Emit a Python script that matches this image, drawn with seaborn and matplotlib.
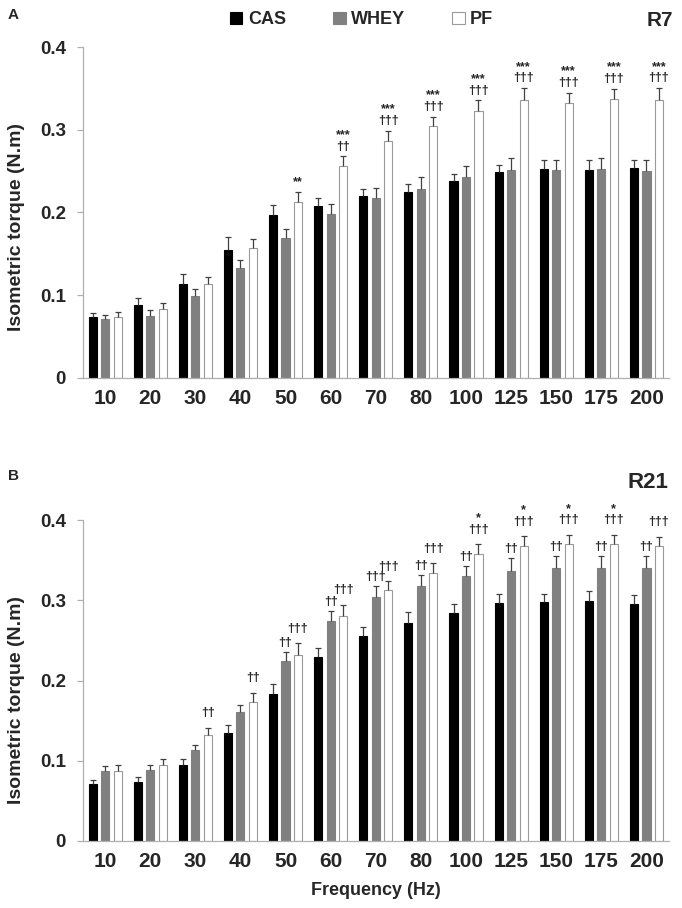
import matplotlib
matplotlib.use("Agg")
import matplotlib.pyplot as plt
import numpy as np
import pandas as pd
import seaborn as sns

freqs = ["10", "20", "30", "40", "50", "60", "70", "80", "100", "125", "150", "175", "200"]
diets = ["CAS", "WHEY", "PF"]

# R7
cas_r7 = [0.073, 0.088, 0.113, 0.154, 0.197, 0.208, 0.220, 0.225, 0.238, 0.249, 0.253, 0.252, 0.254]
cas_r7_sem = [0.005, 0.009, 0.012, 0.016, 0.012, 0.010, 0.008, 0.010, 0.009, 0.009, 0.011, 0.011, 0.010]
whey_r7 = [0.071, 0.075, 0.099, 0.133, 0.169, 0.198, 0.218, 0.229, 0.243, 0.252, 0.251, 0.253, 0.250]
whey_r7_sem = [0.005, 0.0065, 0.0085, 0.009, 0.011, 0.012, 0.012, 0.014, 0.013, 0.014, 0.0125, 0.013, 0.013]
pf_r7 = [0.074, 0.083, 0.114, 0.157, 0.213, 0.256, 0.287, 0.305, 0.323, 0.336, 0.333, 0.337, 0.336]
pf_r7_sem = [0.005, 0.007, 0.008, 0.011, 0.012, 0.012, 0.012, 0.011, 0.013, 0.015, 0.012, 0.013, 0.015]

# R21
cas_r21 = [0.071, 0.074, 0.095, 0.134, 0.183, 0.229, 0.255, 0.272, 0.284, 0.297, 0.2975, 0.299, 0.296]
cas_r21_sem = [0.0045, 0.006, 0.0065, 0.011, 0.013, 0.011, 0.012, 0.013, 0.012, 0.011, 0.010, 0.013, 0.011]
whey_r21 = [0.0875, 0.088, 0.113, 0.161, 0.224, 0.274, 0.304, 0.318, 0.330, 0.337, 0.340, 0.341, 0.340]
whey_r21_sem = [0.0055, 0.0065, 0.006, 0.009, 0.012, 0.013, 0.014, 0.014, 0.013, 0.016, 0.016, 0.015, 0.016]
pf_r21 = [0.0875, 0.0946, 0.132, 0.173, 0.2325, 0.281, 0.313, 0.3346, 0.358, 0.368, 0.371, 0.371, 0.3675]
pf_r21_sem = [0.0065, 0.007, 0.009, 0.012, 0.014, 0.0135, 0.011, 0.0115, 0.012, 0.012, 0.011, 0.011, 0.012]

# significance marks
r7_marks = {
    "PF": ["", "", "", "", "**", "***\n††"] + ["***\n†††"] * 7,
}
r21_marks = {
    "WHEY": ["", "", "", "", "††", "††", "†††", "††", "††", "††", "††", "††", "††"],
    "PF": ["", "", "††", "††", "†††", "†††", "†††", "†††", "*\n†††", "*\n†††", "*\n†††", "*\n†††", "†††"],
}

palette = {"CAS": "#000000", "WHEY": "#808080", "PF": "#ffffff"}
edges = {"CAS": "#000000", "WHEY": "#808080", "PF": "#9a9a9a"}

sns.set_style("white")
plt.rcParams["font.family"] = ["Liberation Sans", "DejaVu Sans"]
plt.rcParams["font.weight"] = "bold"


def make_df(cas, whey, pf):
    return pd.DataFrame({
        "freq": freqs * 3,
        "diet": ["CAS"] * 13 + ["WHEY"] * 13 + ["PF"] * 13,
        "value": cas + whey + pf,
    })


def draw_panel(ax, df, sems, marks, mark_pad, label_y):
    sns.barplot(data=df, x="freq", y="value", hue="diet", order=freqs, hue_order=diets,
                palette=palette, width=0.83, gap=0.35, errorbar=None, ax=ax, legend=True)
    for diet, cont in zip(diets, ax.containers):
        xs = []
        for p in cont.patches:
            p.set_edgecolor(edges[diet])
            p.set_linewidth(0.8)
            xs.append(p.get_x() + p.get_width() / 2)
        vals = np.array([p.get_height() for p in cont.patches])
        err = np.array(sems[diet])
        _, caps, _ = ax.errorbar(xs, vals, yerr=[np.zeros_like(err), err], fmt="none",
                                 ecolor="#404040", elinewidth=0.9, capsize=2.2, capthick=0.9)
        caps[0].set_visible(False)
        if diet in marks:
            for x, v, e, m in zip(xs, vals, err, marks[diet]):
                if m:
                    ax.annotate(m, (x, v + e), xytext=(0, mark_pad[diet]), textcoords="offset points",
                                ha="center", va="bottom", fontsize=9, fontweight="bold",
                                linespacing=0.95, annotation_clip=False)
    ax.set_ylim(0, 0.4)
    ax.set_xlim(-0.5, 12.5)
    ax.set_yticks([0, 0.1, 0.2, 0.3, 0.4])
    ax.set_yticklabels(["0", "0.1", "0.2", "0.3", "0.4"], fontsize=13.5, fontweight="bold")
    ax.set_xticks(range(13))
    ax.set_xticklabels(freqs, fontsize=15, fontweight="bold")
    ax.set_xticks(np.arange(-0.5, 13, 1), minor=True)
    ax.tick_params(axis="x", which="major", length=0, pad=8)
    ax.tick_params(axis="x", which="minor", length=5, color="#b0b0b0", width=0.9, direction="out")
    ax.tick_params(axis="y", length=4, color="#b0b0b0", width=0.9, direction="out", left=True, pad=8)
    sns.despine(ax=ax)
    for s in ["left", "bottom"]:
        ax.spines[s].set_color("#b0b0b0")
        ax.spines[s].set_linewidth(0.9)
    ax.set_ylabel("Isometric torque (N.m)", fontsize=14, fontweight="bold")
    ax.yaxis.set_label_coords(-0.098, label_y)
    ax.set_xlabel("")


fig = plt.figure(figsize=(6.82, 9.08), dpi=100)
ax1 = fig.add_axes([0.121, 0.584, 0.860, 0.364])
ax2 = fig.add_axes([0.121, 0.074, 0.860, 0.353])

df_r7 = make_df(cas_r7, whey_r7, pf_r7)
df_r21 = make_df(cas_r21, whey_r21, pf_r21)
draw_panel(ax1, df_r7, {"CAS": cas_r7_sem, "WHEY": whey_r7_sem, "PF": pf_r7_sem},
           r7_marks, {"PF": 2.5}, 0.455)
draw_panel(ax2, df_r21, {"CAS": cas_r21_sem, "WHEY": whey_r21_sem, "PF": pf_r21_sem},
           r21_marks, {"WHEY": 2.0, "PF": 6.0}, 0.438)
ax2.set_xlabel("Frequency (Hz)", fontsize=13, fontweight="bold", labelpad=8)

fig.text(8 / 682, 1 - 15 / 908, "A", ha="left", va="center", fontsize=11, fontweight="bold")
fig.text(8 / 682, 1 - 476 / 908, "B", ha="left", va="center", fontsize=11, fontweight="bold")
fig.text(673 / 682, 1 - 20 / 908, "R7", ha="right", va="center", fontsize=15, fontweight="bold")
fig.text(668 / 682, 1 - 482 / 908, "R21", ha="right", va="center", fontsize=16, fontweight="bold")

handles, labels = ax1.get_legend_handles_labels()
ax1.get_legend().remove()
ax2.get_legend().remove()
leg = fig.legend(handles, labels, loc="center", bbox_to_anchor=(0.53, 0.978), ncol=3, frameon=False,
                 prop={"size": 13, "weight": "bold"}, handlelength=0.7, handleheight=0.7,
                 handletextpad=0.3, columnspacing=2.6)
for h, d in zip(leg.legend_handles, labels):
    h.set_edgecolor(edges[d])
    h.set_linewidth(0.8)

fig.savefig("out.png", dpi=100)
